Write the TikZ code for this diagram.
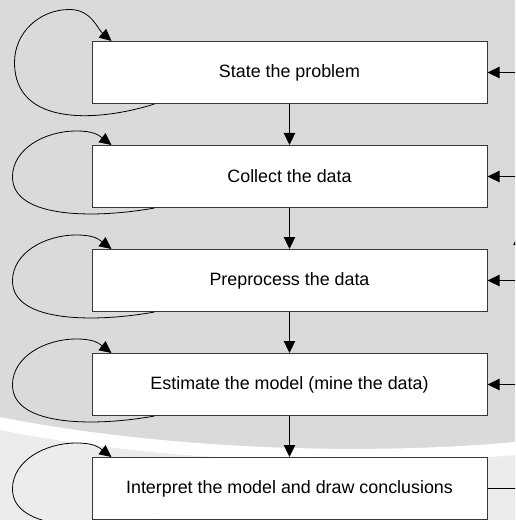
\documentclass[tikz,border=0pt]{standalone}
\usepackage{fontspec}
\setmainfont{Liberation Sans}
\usetikzlibrary{arrows.meta,calc}
\definecolor{bggray}{RGB}{218,218,218}
\definecolor{lowgray}{RGB}{236,236,236}
\definecolor{framegray}{RGB}{55,55,55}
\begin{document}
\begin{tikzpicture}[x=0.75pt,y=-0.75pt,
  stepbox/.style={draw=framegray,fill=white,line width=0.75pt,
    minimum width=296.25pt,minimum height=46.5pt,inner sep=0pt,
    font=\fontsize{13.4}{16}\selectfont},
  tip/.style={-{Triangle[length=9pt,width=8.5pt]}},
  flow/.style={draw=black,line width=0.75pt,tip},
  wire/.style={draw=black,line width=0.75pt},
  redo/.style={draw=black,line width=0.6pt,tip}]
\useasboundingbox (0,0) rectangle (515,520);
\clip (0,0) rectangle (515,520);

% backdrop: grey field with a pale band sweeping across the lower part
\fill[bggray] (0,0) rectangle (515,520);
\fill[white] (0,417) .. controls (150,447) and (350,457) .. (515,442)
  -- (515,520) -- (0,520) -- cycle;
\fill[lowgray] (0,430) .. controls (150,460) and (350,470) .. (515,455)
  -- (515,520) -- (0,520) -- cycle;

% the five stages
\node[stepbox] (b1) at (289.5,72.5)  {State the problem};
\node[stepbox] (b2) at (289.5,176.5) {Collect the data};
\node[stepbox] (b3) at (289.5,280.5) {Preprocess the data};
\node[stepbox] (b4) at (289.5,384.5) {Estimate the model (mine the data)};
\node[stepbox] (b5) at (289.5,488.5) {Interpret the model and draw conclusions};

% forward flow
\foreach \a/\b in {b1/b2,b2/b3,b3/b4,b4/b5}
  \draw[flow] (\a.south) -- (\b.north);

% each stage may be repeated: the first loop is the tallest
\draw[redo] ($(b1.south west)+(63,0)$)
   .. controls +(-55,17.5) and +(0,65) .. ++(-140,-41.5)
   .. controls +(0,-30) and +(-30,0) .. ($(b1.north west)+(-22,-31.5)$)
   .. controls +(22,0) and +(-14,-12) .. ($(b1.north west)+(20,0)$);
\foreach \i in {2,...,5}
  \draw[redo] ($(b\i.south west)+(63,0)$)
     .. controls +(-55,10) and +(0,43) .. ++(-142,-31)
     .. controls +(0,-28) and +(-32,0) .. ($(b\i.north west)+(-15,-14)$)
     .. controls +(17,0) and +(-13,-10) .. ($(b\i.north west)+(20,0)$);

% feedback rail on the right
\coordinate (rail) at (519,0);
\foreach \i in {1,...,5}
  \coordinate (r\i) at (b\i.east -| rail);
\coordinate (railtip) at (519,233);
\foreach \i in {1,...,4}
  \draw[flow] (r\i) -- (b\i.east);
\draw[wire] (b5.east) -- (r5);
\draw[wire] (r5) -- (r1);
\draw[flow] (r5) -- (railtip);
\end{tikzpicture}
\end{document}
